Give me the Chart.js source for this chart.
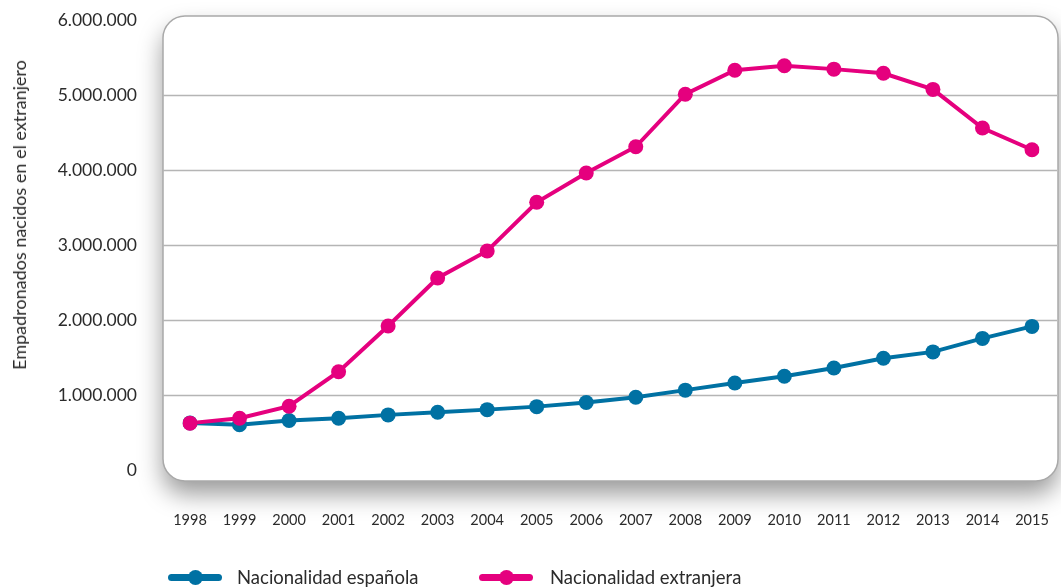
<!DOCTYPE html>
<html lang="es">
<head>
<meta charset="utf-8">
<title>Empadronados nacidos en el extranjero</title>
<script src="https://cdn.jsdelivr.net/npm/chart.js@4/dist/chart.umd.min.js"></script>
<style>
  html, body { margin: 0; padding: 0; background: #fff; }
  body { font-family: Lato, "Open Sans", sans-serif; color: #2b2b2b; }
  .wrap { position: relative; width: 1061px; height: 587px; }
  canvas { position: absolute; left: 0; top: 0; }
  .ytitle {
    position: absolute; left: 19px; top: 215px;
    transform: translate(-50%, -50%) rotate(-90deg);
    white-space: nowrap; font-size: 18px; font-weight: 400; color: #2b2b2b;
  }
  .legend { position: absolute; top: 566px; left: 0; font-size: 18.5px; }
  .legend .item { position: absolute; top: 0; white-space: nowrap; }
  .legend .mark { position: absolute; top: 8px; width: 54px; height: 7px; border-radius: 4px; }
  .legend .mark::after {
    content: ''; position: absolute; left: 20px; top: -4px;
    width: 15px; height: 15px; border-radius: 50%; background: inherit;
  }
  .legend .label { position: absolute; top: 0; line-height: 22px; }
</style>
</head>
<body>
<div class="wrap">
  <canvas id="chart" width="1061" height="587"></canvas>
  <div class="ytitle">Empadronados nacidos en el extranjero</div>
  <div class="legend">
    <div class="item" style="left:168px">
      <span class="mark" style="background:#0071a3"></span>
      <span class="label" style="left:69px">Nacionalidad española</span>
    </div>
    <div class="item" style="left:479px">
      <span class="mark" style="background:#e5007e"></span>
      <span class="label" style="left:71px">Nacionalidad extranjera</span>
    </div>
  </div>
</div>
<script>
const years = ['1998', '1999', '2000', '2001', '2002', '2003', '2004', '2005', '2006',
  '2007', '2008', '2009', '2010', '2011', '2012', '2013', '2014', '2015'];

const spanishNationality = [627000, 605000, 660000, 690000, 735000, 770000, 805000, 845000, 900000,
  970000, 1065000, 1160000, 1250000, 1360000, 1490000, 1575000, 1755000, 1915000];

const foreignNationality = [625000, 690000, 850000, 1310000, 1920000, 2560000, 2920000, 3570000, 3960000,
  4310000, 5010000, 5330000, 5390000, 5345000, 5290000, 5075000, 4560000, 4270000];

const yTicks = [0, 1000000, 2000000, 3000000, 4000000, 5000000, 6000000];

const BLUE = '#0071a3';
const PINK = '#e5007e';

// rounded panel with drop shadow behind the plot, plus the horizontal rules
const panelPlugin = {
  id: 'panel',
  beforeDatasetsDraw(chart) {
    const { ctx, scales } = chart;
    const left = 163, top = 16, right = 1058, bottom = 481, r = 22;

    ctx.save();
    ctx.beginPath();
    ctx.roundRect(left, top, right - left, bottom - top, r);
    ctx.fillStyle = '#fff';
    ctx.shadowColor = 'rgba(0,0,0,0.4)';
    ctx.shadowBlur = 24;
    ctx.shadowOffsetY = 13;
    ctx.fill();
    ctx.shadowColor = 'transparent';
    ctx.lineWidth = 1.5;
    ctx.strokeStyle = '#a9a9a9';
    ctx.stroke();

    ctx.strokeStyle = '#b5b5b5';
    ctx.lineWidth = 1.5;
    yTicks.slice(1, -1).forEach((v) => {
      const y = Math.round(scales.y.getPixelForValue(v)) + 0.5;
      ctx.beginPath();
      ctx.moveTo(left, y);
      ctx.lineTo(right - 1, y);
      ctx.stroke();
    });
    ctx.restore();
  },
};

new Chart(document.getElementById('chart'), {
  type: 'line',
  data: {
    labels: years,
    datasets: [
      {
        label: 'Nacionalidad extranjera',
        data: foreignNationality,
        borderColor: PINK,
        backgroundColor: PINK,
        borderWidth: 4,
        pointRadius: 7.5,
        pointHoverRadius: 7.5,
        pointBorderWidth: 0,
        tension: 0,
        order: 0,
      },
      {
        label: 'Nacionalidad española',
        data: spanishNationality,
        borderColor: BLUE,
        backgroundColor: BLUE,
        borderWidth: 4,
        pointRadius: 7.5,
        pointHoverRadius: 7.5,
        pointBorderWidth: 0,
        tension: 0,
        order: 1,
      },
    ],
  },
  options: {
    responsive: false,
    animation: false,
    layout: { padding: { top: 20, right: 29, left: 0, bottom: 0 } },
    plugins: { legend: { display: false }, tooltip: { enabled: false } },
    scales: {
      x: {
        offset: false,
        grid: { display: false, drawTicks: false },
        border: { display: false },
        ticks: {
          padding: 42,
          color: '#2b2b2b',
          maxRotation: 0,
          autoSkip: false,
          font: { family: 'Lato', size: 14.5 },
        },
        afterFit: (s) => {
          s.height = 117;
          s.paddingLeft = 0;
          s.paddingRight = 0;
        },
      },
      y: {
        min: 0,
        max: 6000000,
        grid: { display: false, drawTicks: false },
        border: { display: false },
        afterBuildTicks: (s) => { s.ticks = yTicks.map((v) => ({ value: v })); },
        ticks: {
          padding: 53,
          color: '#2b2b2b',
          font: { family: 'Lato', size: 17.5 },
          callback: (v) => v.toLocaleString('de-DE'),
        },
        afterFit: (s) => {
          s.width = 190;
          s.paddingTop = 0;
          s.paddingBottom = 0;
        },
      },
    },
  },
  plugins: [panelPlugin],
});
</script>
</body>
</html>
